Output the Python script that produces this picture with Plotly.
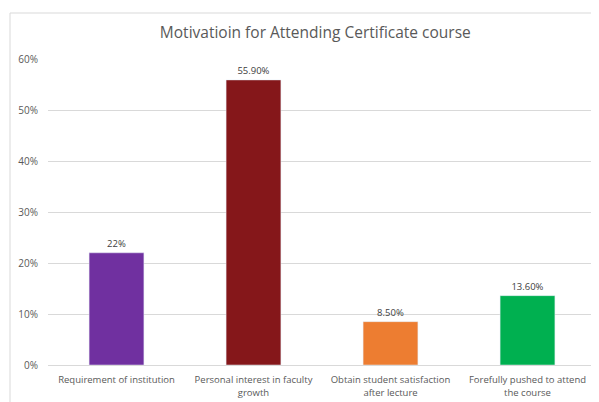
import plotly.graph_objects as go

categories = ["Requirement of institution", "Personal interest in faculty<br>growth",
              "Obtain student satisfaction<br>after lecture", "Forefully pushed to attend<br>the course"]
values = [22, 55.9, 8.5, 13.6]
labels = ["22%", "55.90%", "8.50%", "13.60%"]
colors = ["#7030A0", "#85171A", "#ED7D31", "#00B050"]

font = "Open Sans, Lato, sans-serif"
fig = go.Figure(go.Bar(
    x=categories, y=values, marker_color=colors, width=0.4,
    text=labels, textposition="outside", cliponaxis=False,
    textfont=dict(family=font, size=9.5, color="#404040"),
))
fig.update_layout(
    width=591, height=394,
    margin=dict(l=40, r=3, t=51, b=37),
    paper_bgcolor="white", plot_bgcolor="white",
    showlegend=False,
    title=dict(text="Motivatioin for Attending Certificate course", x=0.52, xanchor="center",
               y=1 - 25/394, yanchor="middle",
               font=dict(family=font, size=15.5, color="#595959")),
    xaxis=dict(tickfont=dict(family=font, size=9.5, color="#595959"), showgrid=False,
               showline=True, linecolor="#D9D9D9", ticks="", ticklabelstandoff=6),
    yaxis=dict(range=[0, 60], dtick=10, ticksuffix="%", showgrid=True, gridcolor="#D9D9D9",
               zeroline=False, tickfont=dict(family=font, size=10, color="#595959"),
               ticks="", ticklabelstandoff=9),
    shapes=[dict(type="rect", xref="paper", yref="paper", x0=(10-48)/548, x1=(600-48)/548,
                 y0=(365-410)/306, y1=(365-13)/306, line=dict(color="#D9D9D9", width=1))],
)
fig.write_html("out.html")
